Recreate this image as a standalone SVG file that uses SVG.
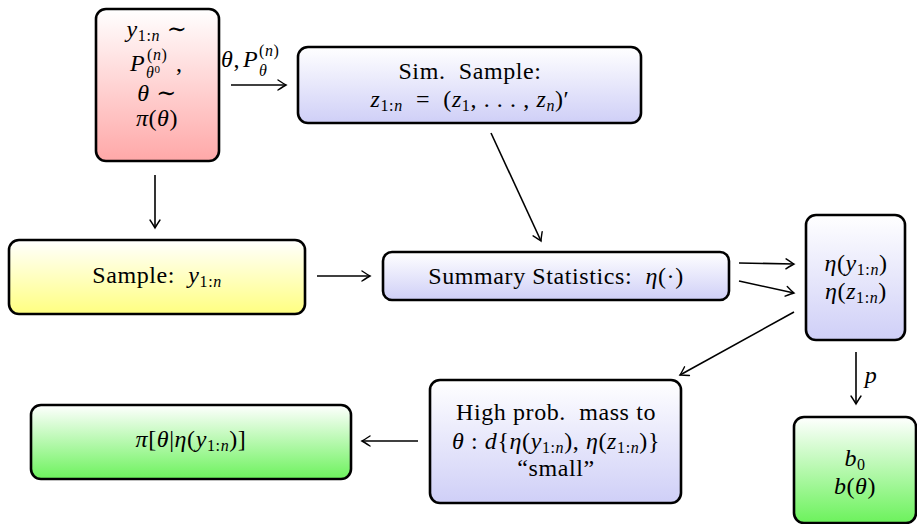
<svg xmlns="http://www.w3.org/2000/svg" width="917" height="524" viewBox="0 0 917 524">
<defs>
<linearGradient id="gRed" x1="0" y1="0" x2="0" y2="1"><stop offset="0" stop-color="#ffffff"/><stop offset="1" stop-color="#ffa8a8"/></linearGradient>
<linearGradient id="gBlue" x1="0" y1="0" x2="0" y2="1"><stop offset="0" stop-color="#ffffff"/><stop offset="1" stop-color="#cfcff7"/></linearGradient>
<linearGradient id="gYel" x1="0" y1="0" x2="0" y2="1"><stop offset="0" stop-color="#ffffff"/><stop offset="1" stop-color="#ffff80"/></linearGradient>
<linearGradient id="gGreen" x1="0" y1="0" x2="0" y2="1"><stop offset="0" stop-color="#ffffff"/><stop offset="1" stop-color="#6cf25c"/></linearGradient>
<marker id="arr" viewBox="-10 -6 12 12" refX="0" refY="0" markerWidth="12" markerHeight="12" markerUnits="userSpaceOnUse" orient="auto">
<path d="M -8 -5 Q -2 -1 0 0 Q -2 1 -8 5" fill="none" stroke="#000" stroke-width="1.4" stroke-linecap="round"/>
</marker>
</defs>
<style>
.box{stroke:#000;stroke-width:2.6}
.t{font-family:"Liberation Serif","DejaVu Serif",serif;font-size:24px;letter-spacing:0.6px;fill:#000;text-anchor:middle}
.l{text-anchor:start}
.m{font-style:italic}
.s{font-size:16px}
.ss{font-size:11px}
.c line{stroke:#000;stroke-width:1.6;marker-end:url(#arr)}
</style>
<g id="prior">
<rect class="box" x="96" y="9" width="123" height="152" rx="10" fill="url(#gRed)"/>
<text class="t" x="157" y="37"><tspan class="m">y</tspan><tspan class="s" dy="4">1:<tspan class="m">n</tspan></tspan><tspan dy="-4"> ∼</tspan></text>
<text class="t l m" x="130" y="71">P</text>
<text class="t l s" x="147" y="60">(<tspan class="m">n</tspan>)</text>
<text class="t l s m" x="146" y="78">θ<tspan class="ss" style="font-style:normal" dy="-5">0</tspan></text>
<text class="t l" x="176" y="71">,</text>
<text class="t" x="157" y="101"><tspan class="m">θ</tspan> ∼</text>
<text class="t" x="157" y="126"><tspan class="m">π</tspan>(<tspan class="m">θ</tspan>)</text>
</g>
<g id="sim">
<rect class="box" x="298" y="47" width="343" height="76" rx="10" fill="url(#gBlue)"/>
<text class="t" x="470" y="79">Sim.&#160; Sample:</text>
<text class="t" x="470" y="107"><tspan class="m">z</tspan><tspan class="s" dy="4">1:<tspan class="m">n</tspan></tspan><tspan dy="-4">&#160; = &#160;(</tspan><tspan class="m">z</tspan><tspan class="s" dy="4">1</tspan><tspan dy="-4">, . . . , </tspan><tspan class="m">z</tspan><tspan class="s m" dy="4">n</tspan><tspan dy="-4">)′</tspan></text>
</g>
<g id="sample">
<rect class="box" x="9" y="240" width="296" height="74" rx="10" fill="url(#gYel)"/>
<text class="t" x="157" y="283">Sample:&#160; <tspan class="m">y</tspan><tspan class="s" dy="4">1:<tspan class="m">n</tspan></tspan></text>
</g>
<g id="summary">
<rect class="box" x="383" y="252" width="346" height="48" rx="9" fill="url(#gBlue)"/>
<text class="t" x="556" y="284">Summary Statistics:&#160; <tspan class="m">η</tspan>(·)</text>
</g>
<g id="eta">
<rect class="box" x="806" y="215" width="99" height="125" rx="10" fill="url(#gBlue)"/>
<text class="t" x="856" y="271"><tspan class="m">η</tspan>(<tspan class="m">y</tspan><tspan class="s" dy="4">1:<tspan class="m">n</tspan></tspan><tspan dy="-4">)</tspan></text>
<text class="t" x="856" y="299"><tspan class="m">η</tspan>(<tspan class="m">z</tspan><tspan class="s" dy="4">1:<tspan class="m">n</tspan></tspan><tspan dy="-4">)</tspan></text>
</g>
<g id="highprob">
<rect class="box" x="430" y="380" width="251" height="123" rx="10" fill="url(#gBlue)"/>
<text class="t" x="556" y="420">High prob.&#160; mass to</text>
<text class="t" x="556" y="449"><tspan class="m">θ</tspan> : <tspan class="m">d</tspan>{<tspan class="m">η</tspan>(<tspan class="m">y</tspan><tspan class="s" dy="4">1:<tspan class="m">n</tspan></tspan><tspan dy="-4">), </tspan><tspan class="m">η</tspan>(<tspan class="m">z</tspan><tspan class="s" dy="4">1:<tspan class="m">n</tspan></tspan><tspan dy="-4">)}</tspan></text>
<text class="t" x="556" y="476">“small”</text>
</g>
<g id="posterior">
<rect class="box" x="31" y="405" width="320" height="74" rx="10" fill="url(#gGreen)"/>
<text class="t" x="191" y="447"><tspan class="m">π</tspan>[<tspan class="m">θ</tspan>|<tspan class="m">η</tspan>(<tspan class="m">y</tspan><tspan class="s" dy="4">1:<tspan class="m">n</tspan></tspan><tspan dy="-4">)]</tspan></text>
</g>
<g id="bias">
<rect class="box" x="794" y="417" width="122" height="106" rx="10" fill="url(#gGreen)"/>
<text class="t" x="855" y="466"><tspan class="m">b</tspan><tspan class="s" dy="4">0</tspan></text>
<text class="t" x="855" y="494"><tspan class="m">b</tspan>(<tspan class="m">θ</tspan>)</text>
</g>
<g id="connectors" class="c">
<line x1="231" y1="85" x2="286" y2="85"/>
<text class="t l" x="221" y="67"><tspan class="m">θ</tspan>,</text>
<text class="t l m" x="243" y="67">P</text>
<text class="t l s" x="259" y="56">(<tspan class="m">n</tspan>)</text>
<text class="t l s m" x="259" y="76">θ</text>
<line x1="155" y1="175" x2="155" y2="228"/>
<line x1="491" y1="133" x2="541" y2="241"/>
<line x1="317" y1="276" x2="370" y2="276"/>
<line x1="739" y1="263" x2="794" y2="264"/>
<line x1="739" y1="281" x2="794" y2="293"/>
<line x1="794" y1="312" x2="680" y2="375"/>
<line x1="856" y1="352" x2="856" y2="404"/>
<text class="t m" x="871" y="383">p</text>
<line x1="418" y1="441" x2="362" y2="441"/>
</g>
</svg>
